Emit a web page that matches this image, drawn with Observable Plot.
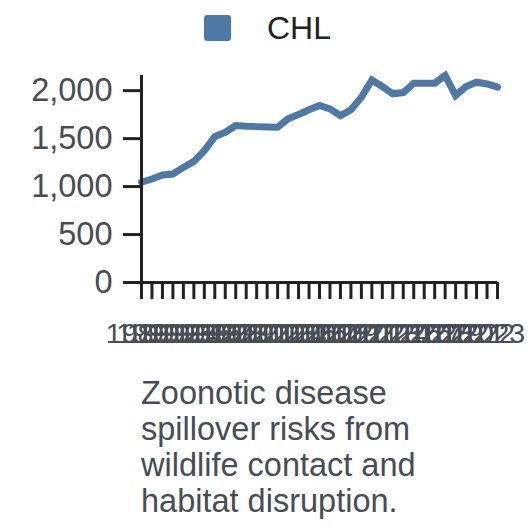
<!DOCTYPE html>
<html>
<head>
<meta charset="utf-8">
<script src="https://cdn.jsdelivr.net/npm/d3@7"></script>
<script src="https://cdn.jsdelivr.net/npm/@observablehq/plot@0.6"></script>
<style>
  html, body { margin: 0; padding: 0; background: #fff; }
  body { width: 528px; height: 528px; overflow: hidden; font-family: "Liberation Sans", Arial, sans-serif; }
  #legend { height: 56px; display: flex; align-items: center; justify-content: center; padding-left: 7px; box-sizing: border-box; }
  #legend .sw { width: 27px; height: 26px; border-radius: 3px; background: #4e79a7; margin-right: 36px; }
  #legend .lb { font-size: 32px; color: #222; line-height: 1; }
  #chart svg { display: block; }
  #caption { margin: 9px 0 0 141px; width: 305px; font-size: 32.5px; line-height: 36px; color: #474c55; }
</style>
</head>
<body>
<div id="legend"></div>
<div id="chart"></div>
<div id="caption"></div>
<script>
const seriesName = "CHL";
const captionText = "Zoonotic disease spillover risks from wildlife contact and habitat disruption.";
const years = [1989, 1990, 1991, 1992, 1993, 1994, 1995, 1996, 1997, 1998, 1999, 2000, 2001, 2002, 2003, 2004, 2005, 2006, 2007, 2008, 2009, 2010, 2011, 2012, 2013, 2014, 2015, 2016, 2017, 2018, 2019, 2020, 2021, 2022, 2023];
const values = [1045, 1079, 1121, 1131, 1200, 1263, 1375, 1521, 1566, 1636, 1629, 1625, 1622, 1618, 1706, 1751, 1800, 1845, 1810, 1740, 1800, 1931, 2110, 2043, 1967, 1980, 2078, 2078, 2078, 2158, 1950, 2043, 2088, 2070, 2036];
const yTicks = [0, 500, 1000, 1500, 2000];

const data = years.map((year, i) => ({year, value: values[i]}));

const legend = document.getElementById("legend");
legend.innerHTML = `<div class="sw"></div><div class="lb"></div>`;
legend.querySelector(".lb").textContent = seriesName;
document.getElementById("caption").textContent = captionText;

const axisColor = "#222";
const labelColor = "#474c55";
const fmtComma = d3.format(",");

const chart = Plot.plot({
  width: 528,
  height: 310,
  marginTop: 19,
  marginRight: 31,
  marginBottom: 84,
  marginLeft: 141,
  style: {fontFamily: "'Liberation Sans', Arial, sans-serif", background: "white", overflow: "visible"},
  x: {domain: d3.extent(years), label: null},
  y: {domain: [0, d3.max(values)], label: null},
  marks: [
    Plot.line(data, {x: "year", y: "value", stroke: "#4e79a7", strokeWidth: 7, strokeLinejoin: "miter", strokeMiterlimit: 4}),
    Plot.ruleX([years[0]], {stroke: axisColor, strokeWidth: 3}),
    Plot.ruleY([0], {stroke: axisColor, strokeWidth: 3}),
    Plot.axisY({ticks: yTicks, tickFormat: d => fmtComma(d), tickSize: 18, tickPadding: 11, fontSize: 32.5, stroke: axisColor, strokeWidth: 3, fill: labelColor, label: null}),
    Plot.axisX({ticks: years, tickFormat: () => "", tickSize: 17, stroke: axisColor, strokeWidth: 3, label: null}),
    Plot.axisX({ticks: years, tickFormat: d => String(d), tickSize: 0, tickPadding: 40, dx: -4, fontSize: 28.5, fill: labelColor, label: null})
  ]
});
document.getElementById("chart").appendChild(chart);
</script>
</body>
</html>
